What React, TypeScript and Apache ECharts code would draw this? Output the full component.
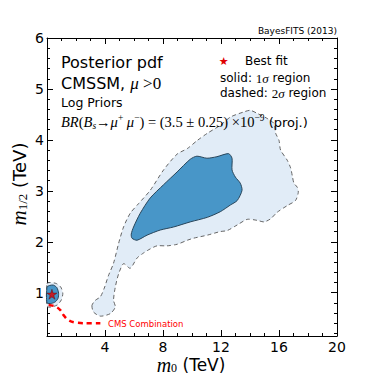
import React, { useEffect, useRef } from "react";
import * as echarts from "echarts";

// ---- data (TeV) ----
const xTicks = [4, 8, 12, 16, 20];
const yTicks = [1, 2, 3, 4, 5, 6];
const yMinorTicks = [0.2, 0.4, 0.6, 0.8, 1.2, 1.4, 1.6, 1.8, 2.2, 2.4, 2.6, 2.8, 3.2, 3.4, 3.6, 3.8, 4.2, 4.4, 4.6, 4.8, 5.2, 5.4, 5.6, 5.8];

// 2 sigma region (main)
const sigma2MainX = [3.10, 3.21, 3.68, 4.37, 4.71, 4.59, 4.71, 4.94, 5.28, 5.74, 6.21, 6.66, 7.12, 7.59, 8.28, 8.97, 9.68, 10.11, 11.06, 11.95, 12.43, 13.12, 13.81, 14.50, 14.97, 15.42, 15.88, 16.57, 17.14, 17.33, 17.26, 17.03, 16.92, 16.80, 16.57, 16.11, 16.00, 15.77, 15.66, 15.19, 14.50, 14.02, 13.59, 12.66, 11.97, 11.06, 10.37, 9.68, 8.97, 8.04, 7.12, 6.32, 5.74, 5.28, 4.94, 4.59, 4.23, 3.95, 3.68, 3.33];
const sigma2MainY = [0.75, 0.62, 0.54, 0.59, 0.72, 0.85, 1.11, 1.37, 1.57, 1.48, 1.68, 1.78, 1.86, 1.92, 1.92, 1.95, 2.03, 2.07, 2.13, 2.20, 2.22, 2.33, 2.44, 2.42, 2.39, 2.45, 2.58, 2.71, 2.81, 2.97, 3.07, 3.15, 3.29, 3.45, 3.60, 3.80, 3.99, 4.13, 4.32, 4.42, 4.52, 4.58, 4.55, 4.45, 4.29, 4.13, 3.99, 3.83, 3.72, 3.41, 3.01, 2.75, 2.56, 2.29, 1.97, 1.58, 1.33, 1.09, 0.92, 0.85];

// 1 sigma region (main)
const sigma1MainX = [5.86, 6.21, 6.90, 7.81, 8.73, 9.88, 11.06, 11.95, 12.64, 13.12, 13.45, 13.33, 12.99, 12.76, 12.76, 12.52, 11.72, 11.03, 10.34, 9.88, 8.97, 8.04, 7.12, 6.43, 5.97, 5.81];
const sigma1MainY = [2.07, 2.03, 2.13, 2.23, 2.29, 2.39, 2.48, 2.59, 2.72, 2.81, 3.01, 3.15, 3.27, 3.41, 3.64, 3.73, 3.67, 3.64, 3.68, 3.62, 3.37, 3.12, 2.86, 2.56, 2.29, 2.15];

// small island near the origin
const sigma2IslandX = [0, 0.23, 0.64, 0.95, 1.09, 0.99, 0.71, 0.30, 0];
const sigma2IslandY = [1.18, 1.20, 1.18, 1.11, 0.99, 0.86, 0.76, 0.72, 0.73];
const sigma1IslandX = [0, 0.16, 0.43, 0.68, 0.80, 0.76, 0.57, 0.30, 0];
const sigma1IslandY = [1.11, 1.14, 1.15, 1.10, 0.99, 0.89, 0.82, 0.79, 0.80];

// best fit
const bestFit = [0.34, 0.97];

// CMS combination limit
const cmsX = [0.11, 0.57, 0.92, 1.14, 1.49, 2.07, 2.99, 3.68];
const cmsY = [0.76, 0.73, 0.66, 0.56, 0.46, 0.41, 0.40, 0.40];

const DARK = "#4896c8";
const LIGHT = "#e1ecf7";

function polySeries(xs: number[], ys: number[], style: any) {
  return {
    type: "custom",
    coordinateSystem: "cartesian2d",
    xAxisIndex: 0,
    yAxisIndex: 0,
    silent: true,
    z: 1,
    data: xs.map((x, i) => [x, ys[i]]),
    renderItem: (params: any, api: any) => {
      if (params.dataIndex !== 0) return null;
      const pts = xs.map((x, i) => api.coord([x, ys[i]]));
      return {
        type: "polygon",
        shape: { points: pts, smooth: 0.25 },
        style,
      };
    },
  };
}

const SANS = "DejaVu Sans";
const SERIF = "Liberation Serif";

export default function App() {
  const ref = useRef<HTMLDivElement>(null);
  useEffect(() => {
    if (!ref.current) return;
    const chart = echarts.init(ref.current, null, { renderer: "svg" });
    const axisCommon = {
      axisLine: { show: true, lineStyle: { color: "#000", width: 1 } },
      splitLine: { show: false },
    };
    const T = (o: any) => ({ z: 100, ...o });
    const option: any = {
      animation: false,
      backgroundColor: "#fff",
      grid: { left: 47, top: 38, width: 290, height: 298, containLabel: false, outerBoundsMode: "none" },
      xAxis: [
        {
          type: "value", position: "bottom", min: 0, max: 20, interval: 4,
          ...axisCommon,
          axisTick: { inside: true, length: 6, lineStyle: { color: "#000" } },
          minorTick: { show: true, splitNumber: 4, length: 3, lineStyle: { color: "#000" } },
          minorSplitLine: { show: false },
          axisLabel: {
            margin: 4, fontSize: 14, lineHeight: 14, fontFamily: SANS, color: "#000",
            formatter: (v: number) => (xTicks.indexOf(v) >= 0 ? String(v) : ""),
          },
        },
        {
          type: "value", position: "top", min: 0, max: 20, interval: 4,
          ...axisCommon,
          axisTick: { inside: true, length: 6, lineStyle: { color: "#000" } },
          minorTick: { show: true, splitNumber: 4, length: 3, lineStyle: { color: "#000" } },
          axisLabel: { show: false },
        },
      ],
      yAxis: [
        {
          type: "value", position: "left", min: 0.15, max: 6,
          ...axisCommon,
          axisTick: { inside: true, length: 6, customValues: yTicks, lineStyle: { color: "#000" } },
          axisLabel: { margin: 3, fontSize: 14, fontFamily: SANS, color: "#000", customValues: yTicks },
        },
        {
          type: "value", position: "left", min: 0.15, max: 6,
          axisLine: { show: false }, splitLine: { show: false },
          axisTick: { inside: true, length: 3, customValues: yMinorTicks, lineStyle: { color: "#000" } },
          axisLabel: { show: false },
        },
        {
          type: "value", position: "right", min: 0.15, max: 6,
          ...axisCommon,
          axisTick: { inside: true, length: 6, customValues: yTicks, lineStyle: { color: "#000" } },
          axisLabel: { show: false },
        },
        {
          type: "value", position: "right", min: 0.15, max: 6,
          axisLine: { show: false }, splitLine: { show: false },
          axisTick: { inside: true, length: 3, customValues: yMinorTicks, lineStyle: { color: "#000" } },
          axisLabel: { show: false },
        },
      ],
      series: [
        polySeries(sigma2MainX, sigma2MainY, { fill: LIGHT, stroke: "#555", lineWidth: 0.9, lineDash: [4, 3] }),
        polySeries(sigma2IslandX, sigma2IslandY, { fill: LIGHT, stroke: "#555", lineWidth: 0.9, lineDash: [4, 3] }),
        polySeries(sigma1MainX, sigma1MainY, { fill: DARK, stroke: "#28455a", lineWidth: 1 }),
        polySeries(sigma1IslandX, sigma1IslandY, { fill: DARK, stroke: "#28455a", lineWidth: 1 }),
        {
          type: "line",
          xAxisIndex: 0, yAxisIndex: 0,
          z: 3,
          data: cmsX.map((x, i) => [x, cmsY[i]]),
          smooth: 0.4,
          symbol: "none",
          lineStyle: { color: "#ff0000", width: 2.5, type: [5, 4] },
          silent: true,
        },
        {
          type: "scatter",
          xAxisIndex: 0, yAxisIndex: 0,
          z: 4,
          data: [bestFit],
          symbol: "path://M50,0 L61,35 L98,35 L68,57 L79,91 L50,70 L21,91 L32,57 L2,35 L39,35 Z",
          symbolSize: 10,
          itemStyle: { color: "#e00000", borderColor: "#400", borderWidth: 0.5 },
          silent: true,
        },
      ],
      graphic: [
        T({ type: "text", x: 337, y: 30.5, style: { text: "BayesFITS (2013)", font: `9px "${SANS}"`, fill: "#000", align: "right", verticalAlign: "middle" } }),
        T({ type: "text", x: 61, y: 62, style: { text: "Posterior pdf", font: `16px "${SANS}"`, fill: "#000", align: "left", verticalAlign: "middle" } }),
        T({
          type: "text", x: 61, y: 83.5,
          style: {
            text: "{s|CMSSM, }{i|μ}{r| >0}", align: "left", verticalAlign: "middle",
            rich: {
              s: { fontSize: 16, fontFamily: SANS, fill: "#000" },
              i: { fontSize: 17, fontFamily: SERIF, fontStyle: "italic", fill: "#000" },
              r: { fontSize: 17, fontFamily: SERIF, fill: "#000" },
            },
          },
        }),
        T({ type: "text", x: 61, y: 102, style: { text: "Log Priors", font: `12.5px "${SANS}"`, fill: "#000", align: "left", verticalAlign: "middle" } }),
        T({
          type: "text", x: 61, y: 122,
          style: {
            text: "{i|BR}{r|(}{i|B}{sub|s}{r|→}{i|μ}{sup|+}{i| μ}{sup|−}{r|) = (3.5 ± 0.25) ×10}{sup|−9}{s| (proj.)}",
            align: "left", verticalAlign: "middle",
            rich: {
              i: { fontSize: 14.5, fontFamily: SERIF, fontStyle: "italic", fill: "#000", lineHeight: 18 },
              r: { fontSize: 14.5, fontFamily: SERIF, fill: "#000", lineHeight: 18 },
              sub: { fontSize: 9.5, fontFamily: SERIF, fontStyle: "italic", fill: "#000", verticalAlign: "bottom", lineHeight: 18 },
              sup: { fontSize: 9.5, fontFamily: SERIF, fill: "#000", verticalAlign: "top", lineHeight: 18 },
              s: { fontSize: 13, fontFamily: SANS, fill: "#000", lineHeight: 18 },
            },
          },
        }),
        T({ type: "text", x: 223.7, y: 61, style: { text: "★", font: `11px "${SANS}"`, fill: "#e00000", align: "center", verticalAlign: "middle" } }),
        T({ type: "text", x: 245, y: 61, style: { text: "Best fit", font: `12px "${SANS}"`, fill: "#000", align: "left", verticalAlign: "middle" } }),
        T({
          type: "text", x: 220, y: 78,
          style: {
            text: "{s|solid: }{r|1}{i|σ}{s| region}", align: "left", verticalAlign: "middle",
            rich: {
              s: { fontSize: 12, fontFamily: SANS, fill: "#000" },
              r: { fontSize: 13, fontFamily: SERIF, fill: "#000" },
              i: { fontSize: 13, fontFamily: SERIF, fontStyle: "italic", fill: "#000" },
            },
          },
        }),
        T({
          type: "text", x: 220, y: 93,
          style: {
            text: "{s|dashed: }{r|2}{i|σ}{s| region}", align: "left", verticalAlign: "middle",
            rich: {
              s: { fontSize: 12, fontFamily: SANS, fill: "#000" },
              r: { fontSize: 13, fontFamily: SERIF, fill: "#000" },
              i: { fontSize: 13, fontFamily: SERIF, fontStyle: "italic", fill: "#000" },
            },
          },
        }),
        T({ type: "text", x: 108, y: 323.5, style: { text: "CMS Combination", font: `8.5px "${SANS}"`, fill: "#ff0000", align: "left", verticalAlign: "middle" } }),
        T({
          type: "text", x: 191, y: 364.5,
          style: {
            text: "{i|m}{sub|0}{s| (TeV)}", align: "center", verticalAlign: "middle",
            rich: {
              i: { fontSize: 20, fontFamily: SERIF, fontStyle: "italic", fill: "#000", lineHeight: 19 },
              sub: { fontSize: 12, fontFamily: SERIF, fill: "#000", verticalAlign: "bottom", lineHeight: 19 },
              s: { fontSize: 17, fontFamily: SANS, fill: "#000", lineHeight: 19 },
            },
          },
        }),
        T({
          type: "text", x: 19, y: 184, rotation: Math.PI / 2,
          style: {
            text: "{i|m}{sub|1/2}{s| (TeV)}", align: "center", verticalAlign: "middle",
            rich: {
              i: { fontSize: 21, fontFamily: SERIF, fontStyle: "italic", fill: "#000", lineHeight: 20 },
              sub: { fontSize: 13, fontFamily: SERIF, fill: "#000", verticalAlign: "bottom", lineHeight: 20 },
              s: { fontSize: 18, fontFamily: SANS, fill: "#000", lineHeight: 20 },
            },
          },
        }),
      ],
    };
    chart.setOption(option);
    return () => chart.dispose();
  }, []);
  return <div ref={ref} style={{ position: "fixed", left: 0, top: 0, width: 374, height: 374 }} />;
}
